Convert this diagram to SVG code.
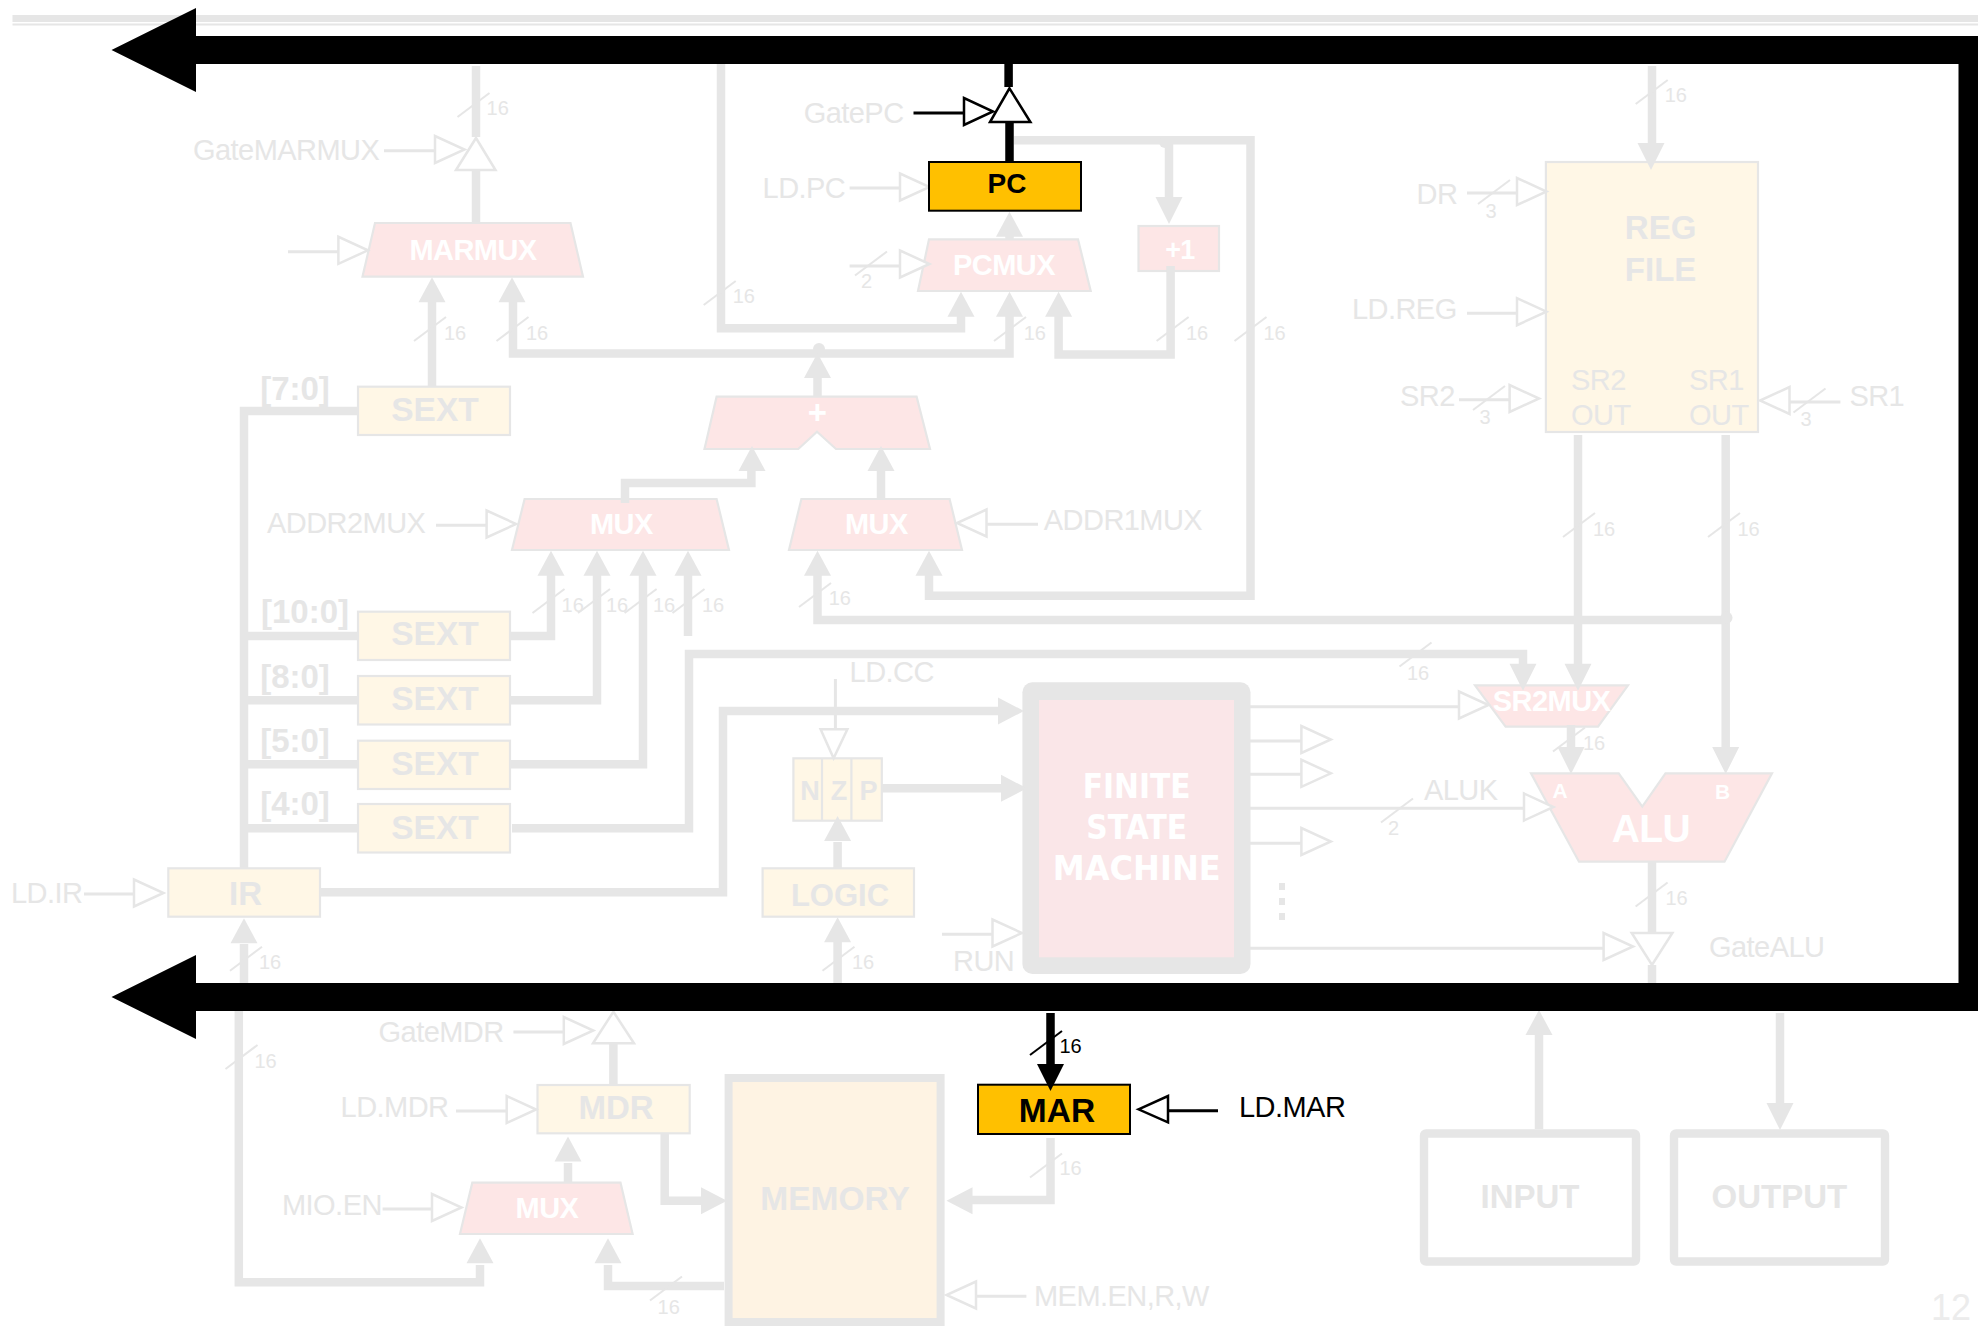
<svg xmlns="http://www.w3.org/2000/svg" width="1978" height="1326" viewBox="0 0 1978 1326">
<style>
text{font-family:"Liberation Sans",Arial,sans-serif;transform:translateY(-1.2px)}
.t{font-size:29px;letter-spacing:-.55px;fill:#e6e6e6}
.k{font-size:29px;letter-spacing:-.55px;fill:#000}
.b{font-size:33px;font-weight:700;fill:#e6e6e6;text-anchor:middle}
.w{font-size:29px;letter-spacing:-.55px;font-weight:700;fill:#fff;text-anchor:middle}
.n{font-size:20px;fill:#e6e6e6}
.s{stroke:#e6e6e6;stroke-width:2.2}
.y{fill:#fff7e6}
.p{fill:#fde6e6}
.g{fill:#fff;stroke:#e6e6e6;stroke-width:2.5}
.bus{fill:none;stroke:#e6e6e6;stroke-width:8.5}
.ctl{fill:none;stroke:#e6e6e6;stroke-width:3}
.head{fill:#e6e6e6}
.open{fill:#fff;stroke:#e6e6e6;stroke-width:2.5}
.sl{stroke:#e6e6e6;stroke-width:2;fill:none}
.fsm{font-family:"DejaVu Sans",sans-serif;font-size:33px;font-weight:700;fill:#fff;text-anchor:middle}
</style>
<defs>
<path id="au" d="M0 0L-13.5 25H13.5Z"/>
<path id="ad" d="M0 0L-13.5-27H13.5Z"/>
<path id="ar" d="M0 0L-26-13.5V13.5Z"/>
<path id="al" d="M0 0L26-13.5V13.5Z"/>
<path id="cr" d="M0-13.5V13.5L29.5 0Z"/>
<path id="cl" d="M0-13.5V13.5L-29.5 0Z"/>
<path id="cs" d="M-16 12L16-12"/>
</defs>

<g id="header"><rect x="12.5" y="15" width="1965.5" height="7" fill="#e6e6e6"/><rect x="12.5" y="23.5" width="1965.5" height="2" fill="#e6e6e6"/></g>

<g id="marmux"><polygon class="p s" points="375,223 570.5,223 583,276.7 362.5,276.7"/><text class="w" x="473" y="261">MARMUX</text></g>
<g id="pcmux"><polygon class="p s" points="929,239.3 1078,239.3 1090.7,291 918,291"/><text class="w" x="1004" y="276">PCMUX</text></g>
<g id="inc"><rect class="p s" x="1138.5" y="226" width="80.5" height="45"/><text class="w" x="1180" y="260.7" style="font-size:27px">+1</text></g>
<g id="adder"><polygon class="p s" points="716.6,396.7 916.6,396.7 930,449 836,449 817,431.7 798.3,449 704.5,449"/><text class="w" x="817" y="425" style="font-size:33px">+</text></g>
<g id="addr2mux"><polygon class="p s" points="524.6,499 716.6,499 729,550 512,550"/><text class="w" x="621.4" y="535">MUX</text></g>
<g id="addr1mux"><polygon class="p s" points="801.4,499 949.6,499 962,550 789,550"/><text class="w" x="876.4" y="535">MUX</text></g>
<g id="sext7"><rect class="y s" x="358" y="386.7" width="152" height="48.3"/><text class="b" x="435" y="422.7" style="font-size:33.5px">SEXT</text></g>
<g id="sext10"><rect class="y s" x="358" y="611.7" width="152" height="48.3"/><text class="b" x="435" y="646.7" style="font-size:33.5px">SEXT</text></g>
<g id="sext8"><rect class="y s" x="358" y="676" width="152" height="48.5"/><text class="b" x="435" y="711.7" style="font-size:33.5px">SEXT</text></g>
<g id="sext5"><rect class="y s" x="358" y="740.7" width="152" height="48.3"/><text class="b" x="435" y="776.7" style="font-size:33.5px">SEXT</text></g>
<g id="sext4"><rect class="y s" x="358" y="804" width="152" height="48.5"/><text class="b" x="435" y="840" style="font-size:33.5px">SEXT</text></g>
<g id="ir"><rect class="y s" x="168.3" y="868.3" width="151.7" height="48.4"/><text class="b" x="245.5" y="906.5">IR</text></g>
<g id="logic"><rect class="y s" x="762.6" y="868.3" width="151.4" height="48.4"/><text class="b" x="840" y="907" style="font-size:31px">LOGIC</text></g>
<g id="nzp"><rect class="y s" x="793.4" y="758.3" width="88.4" height="62.4"/><path class="s" fill="none" d="M822 758.3V820.7M851.4 758.3V820.7"/><text class="b" x="810" y="801.7" style="font-size:27px">N</text><text class="b" x="839" y="801.7" style="font-size:27px">Z</text><text class="b" x="868.4" y="801.7" style="font-size:27px">P</text></g>
<g id="fsm"><rect x="1022.4" y="682.3" width="228.1" height="291.7" rx="10" fill="#e6e6e6"/><rect x="1039" y="700" width="195" height="257.3" fill="#fae6e8"/><text class="fsm" x="1136.7" y="799" textLength="108" lengthAdjust="spacingAndGlyphs">FINITE</text><text class="fsm" x="1136.7" y="840" textLength="101" lengthAdjust="spacingAndGlyphs">STATE</text><text class="fsm" x="1136.7" y="881.7" textLength="168" lengthAdjust="spacingAndGlyphs">MACHINE</text></g>
<g id="regfile"><rect class="y s" x="1545.9" y="162" width="212.1" height="270"/><text class="b" x="1660.6" y="240.7">REG</text><text class="b" x="1660.6" y="282.7">FILE</text><text class="t" x="1571" y="391.7">SR2</text><text class="t" x="1571" y="426.7">OUT</text><text class="t" x="1689" y="391.7">SR1</text><text class="t" x="1689" y="426.7">OUT</text></g>
<g id="sr2mux"><polygon class="p s" points="1475,685.3 1628,685.3 1598,726.7 1505.6,726.7"/><text class="w" x="1551.6" y="712.3">SR2MUX</text></g>
<g id="alu"><polygon class="p s" points="1531,773.3 1618.7,773.3 1642.3,806.7 1665.5,773.3 1772,773.3 1724.5,861.7 1579,861.7"/><text class="w" x="1559.7" y="799" style="font-size:21px">A</text><text class="w" x="1722.4" y="800" style="font-size:21px">B</text><text class="w" x="1651" y="843" style="font-size:39px">ALU</text></g>
<g id="mdr"><rect class="y s" x="537.5" y="1085" width="152.2" height="48.3"/><text class="b" x="616" y="1120">MDR</text></g>
<g id="miomux"><polygon class="p s" points="472.3,1182.7 620.5,1182.7 632.6,1234 460,1234"/><text class="w" x="547" y="1219">MUX</text></g>
<g id="memory"><rect x="728.6" y="1078" width="212" height="244" fill="#fef3e3" stroke="#e6e6e6" stroke-width="8"/><text class="b" x="835" y="1211.7" style="font-size:33.5px">MEMORY</text></g>
<g id="input"><rect x="1424" y="1133.5" width="212" height="128" rx="2" fill="none" stroke="#e6e6e6" stroke-width="8.4"/><text class="b" x="1530" y="1209.3">INPUT</text></g>
<g id="output"><rect x="1674" y="1133.5" width="211" height="128" rx="2" fill="none" stroke="#e6e6e6" stroke-width="8.4"/><text class="b" x="1779.4" y="1209.3">OUTPUT</text></g>

<g id="labels">
<text class="t" x="193" y="161">GateMARMUX</text>
<text class="t" x="803.7" y="124.3">GatePC</text>
<text class="t" x="762.6" y="199.3">LD.PC</text>
<text class="t" x="267" y="534">ADDR2MUX</text>
<text class="t" x="1043.8" y="531">ADDR1MUX</text>
<text class="t" x="1416.5" y="205.7">DR</text>
<text class="t" x="1352" y="320.7">LD.REG</text>
<text class="t" x="1400" y="407.7">SR2</text>
<text class="t" x="1849.4" y="407.7">SR1</text>
<text class="t" x="849.6" y="683.3">LD.CC</text>
<text class="t" x="1424" y="801">ALUK</text>
<text class="t" x="1709" y="958">GateALU</text>
<text class="t" x="953" y="972.3">RUN</text>
<text class="t" x="11" y="904">LD.IR</text>
<text class="t" x="378.6" y="1043.3">GateMDR</text>
<text class="t" x="340.6" y="1118.3">LD.MDR</text>
<text class="t" x="282" y="1216.7">MIO.EN</text>
<text class="t" x="1034" y="1307.7">MEM.EN,R,W</text>
<text class="b" x="295" y="401.7">[7:0]</text>
<text class="b" x="305" y="624">[10:0]</text>
<text class="b" x="295" y="689">[8:0]</text>
<text class="b" x="295" y="753">[5:0]</text>
<text class="b" x="295" y="816.7">[4:0]</text>
<text class="n" x="486.6" y="116">16</text>
<text class="n" x="444" y="341">16</text>
<text class="n" x="526" y="341">16</text>
<text class="n" x="732.7" y="304">16</text>
<text class="n" x="1023.7" y="341">16</text>
<text class="n" x="1186" y="341">16</text>
<text class="n" x="1263.5" y="341">16</text>
<text class="n" x="1664.7" y="103">16</text>
<text class="n" x="861" y="289">2</text>
<text class="n" x="1485.6" y="219">3</text>
<text class="n" x="1479.5" y="425">3</text>
<text class="n" x="1800.5" y="427">3</text>
<text class="n" x="561.6" y="613">16</text>
<text class="n" x="606" y="613">16</text>
<text class="n" x="653" y="613">16</text>
<text class="n" x="702" y="613">16</text>
<text class="n" x="828.7" y="606">16</text>
<text class="n" x="1593" y="537">16</text>
<text class="n" x="1737.5" y="537">16</text>
<text class="n" x="1407" y="681">16</text>
<text class="n" x="1583" y="751">16</text>
<text class="n" x="1388" y="836.7">2</text>
<text class="n" x="1665.5" y="906">16</text>
<text class="n" x="259" y="970.7">16</text>
<text class="n" x="254.5" y="1069">16</text>
<text class="n" x="657.6" y="1315">16</text>
<text class="n" x="852" y="970.7">16</text>
<text class="n" x="1059.5" y="1176.7">16</text>
<text x="1931" y="1321" style="font-size:36px;fill:#ececec">12</text>
</g>

<g id="connectors">
<path class="bus" d="M476 66V137M476 170V223M432 302V387M513 302V353.5H1009.5V315M721 64V328.3H961V315M817.5 396.7V378M1170.6 266V354.5H1058.6V315M1014 140.3H1250.5V595.7H929V575M1169 140V197M1009.5 236V239.5M244 868V411H358M244 636H358M244 700.3H358M244 764.3H358M244 828.3H358M510 636H551V575M510 700.3H597V575M510 764.3H643V575M688 636V575M512 828.3H689V654H1523V664M625 503V483H751.4V470M881 499V470M817.5 575V620H1726M1578 435V664M1725.7 435V748M1571 725V751M1652 66V143M320 892.3H723V711H998M882 788.3H1001M837.6 842V868M837.6 942V983M244 944V983M238.8 1011V1282.3H480V1265M568 1163V1183M613.4 1043V1085M664.7 1133V1200.7H701M724 1286H608V1265M1050.5 1138V1200H972M1539 1129V1032M1780 1013V1106M1652 862V933M1652 965V983"/>
<circle class="head" cx="819" cy="349" r="6"/><circle class="head" cx="1165" cy="142" r="6"/><circle class="head" cx="1726.5" cy="617.7" r="6"/>
<g class="head">
<use href="#au" x="432" y="277.3"/><use href="#au" x="512" y="277.3"/><use href="#au" x="1009.5" y="291.7"/><use href="#au" x="961" y="291.7"/><use href="#au" x="1058.6" y="291.7"/><use href="#au" x="1009.5" y="211.7"/><use href="#au" x="817.5" y="353"/>
<use href="#au" x="551" y="550.7"/><use href="#au" x="597" y="550.7"/><use href="#au" x="643" y="550.7"/><use href="#au" x="688" y="550.7"/>
<use href="#au" x="752" y="446"/><use href="#au" x="881" y="446"/><use href="#au" x="817.5" y="550.7"/><use href="#au" x="929" y="550.7"/>
<use href="#au" x="837.6" y="816"/><use href="#au" x="837.6" y="917.3"/><use href="#au" x="244" y="918.3"/><use href="#au" x="480" y="1238.3"/><use href="#au" x="608" y="1238.3"/><use href="#au" x="568" y="1136.5"/><use href="#au" x="1539" y="1010"/>
<use href="#ad" x="1169" y="224"/><use href="#ad" x="1651" y="170"/><use href="#ad" x="1523" y="690.7"/><use href="#ad" x="1578" y="690.7"/><use href="#ad" x="1725.7" y="774"/><use href="#ad" x="1571" y="774"/><use href="#ad" x="1780" y="1130"/>
<use href="#ar" x="1024" y="711"/><use href="#ar" x="1027" y="788.3"/><use href="#ar" x="727" y="1200.7"/><use href="#al" x="946.5" y="1200.7"/>
</g>
<path class="ctl" d="M384 150.7H435M288 251.7H338.4M849.6 188H900M849.6 266H900M436 525.3H486.6M987 524.3H1038M1467 193H1517M1467 313.3H1517M1459 399.7H1509.6M1790 402H1840.4M84 894H134M513.4 1032H563.8M456 1111H506.7M382.6 1209H432M976 1296.3H1026.4M942 934.3H992.5M835.4 679V729.3M1250 706.7H1459M1250 741H1301.4M1250 774.3H1301.4M1250 808.3H1524M1250 843.3H1301.4M1250 948.3H1603.6"/>
<g class="open">
<use href="#cr" x="435" y="149.5"/><use href="#cr" x="338.4" y="250.3"/><use href="#cr" x="900" y="187"/><use href="#cr" x="900" y="264"/><use href="#cr" x="486.6" y="524"/><use href="#cl" x="986.5" y="523"/>
<use href="#cr" x="1517" y="191.5"/><use href="#cr" x="1517" y="311.7"/><use href="#cr" x="1509.6" y="398.5"/><use href="#cl" x="1789.5" y="400.5"/><use href="#cr" x="134" y="893"/><use href="#cr" x="563.8" y="1030.5"/><use href="#cr" x="506.7" y="1109.5"/><use href="#cr" x="432" y="1207.5"/><use href="#cl" x="976" y="1295"/><use href="#cr" x="992.5" y="933"/>
<use href="#cr" x="1459" y="705"/><use href="#cr" x="1301.4" y="739.5"/><use href="#cr" x="1301.4" y="773.3"/><use href="#cr" x="1524" y="807"/><use href="#cr" x="1301.4" y="841.5"/><use href="#cr" x="1603.6" y="946.5"/>
<polygon points="820.6,729.3 847.4,729.3 833.6,758.3"/>
</g>
<g class="sl">
<use href="#cs" x="473.5" y="105"/><use href="#cs" x="430" y="329"/><use href="#cs" x="512.5" y="329"/><use href="#cs" x="719.7" y="293"/><use href="#cs" x="1010" y="329"/><use href="#cs" x="1172.6" y="329"/><use href="#cs" x="1250.5" y="329"/><use href="#cs" x="1651.7" y="92"/><use href="#cs" x="871" y="263.5"/><use href="#cs" x="1494" y="192"/><use href="#cs" x="1489" y="398"/><use href="#cs" x="1809.5" y="400.5"/>
<use href="#cs" x="548.5" y="601"/><use href="#cs" x="594" y="601"/><use href="#cs" x="640.6" y="601"/><use href="#cs" x="688.5" y="601"/><use href="#cs" x="815" y="595"/><use href="#cs" x="1579" y="525"/><use href="#cs" x="1724" y="525"/><use href="#cs" x="1415.5" y="654.5"/><use href="#cs" x="1569" y="739.5"/><use href="#cs" x="1397" y="810.5"/><use href="#cs" x="1651.6" y="894.5"/><use href="#cs" x="246" y="958.7"/><use href="#cs" x="241.5" y="1057"/><use href="#cs" x="666" y="1288.5"/><use href="#cs" x="838.5" y="958.7"/><use href="#cs" x="1046" y="1165.5"/>
</g>
<g fill="#e6e6e6"><rect x="1279" y="883" width="6" height="7"/><rect x="1279" y="898" width="6" height="7"/><rect x="1279" y="913" width="6" height="7"/></g>
</g>

<g id="gatemarmux"><polygon class="g" points="476,138 495.5,170 456,170"/></g>
<g id="gatemdr"><polygon class="g" points="613.4,1011.7 634,1043.3 593,1043.3"/></g>
<g id="gatealu"><polygon class="g" points="1631.7,933 1672.4,933 1652,965"/></g>

<g id="systembus"><path d="M111.5 50L196 8V36H1978V1011H196V1039L111.5 997L196 955V983H1958.5V64H196V92Z" fill="#000"/></g>

<g id="pc"><rect x="929" y="162" width="152" height="48.7" fill="#ffc000" stroke="#000" stroke-width="2"/><text x="1007" y="194.3" text-anchor="middle" style="font-size:28px;font-weight:700">PC</text></g>
<g id="mar"><rect x="978" y="1084.7" width="152" height="49.3" fill="#ffc000" stroke="#000" stroke-width="2"/><text x="1057" y="1123.3" text-anchor="middle" style="font-size:33.5px;font-weight:700">MAR</text></g>
<g id="active-connectors">
<path d="M1009.5 162V122M1008.6 55V87M1050.5 1013V1065" fill="none" stroke="#000" stroke-width="8.5"/>
<path d="M1050.5 1091L1037 1064H1064Z" fill="#000"/>
<path d="M913.5 113H964M1168 1110.7H1218" fill="none" stroke="#000" stroke-width="3"/>
<path d="M964 98V125L993 111.5Z" fill="#fff" stroke="#000" stroke-width="2.5"/>
<path d="M1009.5 88.3L1030.4 122H990Z" fill="#fff" stroke="#000" stroke-width="2.5"/>
<path d="M1138.5 1109.3L1168 1096V1122.3Z" fill="#fff" stroke="#000" stroke-width="2.5"/>
<path d="M1030 1055L1062 1031" fill="none" stroke="#000" stroke-width="2"/>
<text x="1059.5" y="1054" style="font-size:20px">16</text>
<text class="k" x="1239" y="1118.3">LD.MAR</text>
</g>
</svg>
